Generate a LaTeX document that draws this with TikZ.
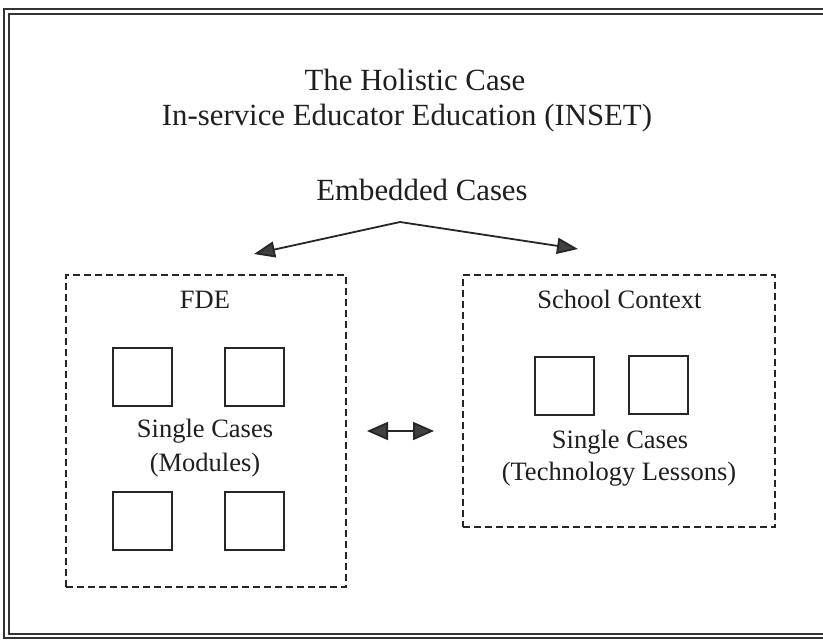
\documentclass[tikz,border=0pt]{standalone}
\usepackage{fontspec}
\setmainfont{Liberation Serif}
\usetikzlibrary{arrows.meta}
\begin{document}
\begin{tikzpicture}[x=1pt,y=-1pt,
  big/.style={font=\fontsize{30.8}{36}\selectfont, text=black!88, inner sep=0pt, anchor=base},
  small/.style={font=\fontsize{26.5}{32}\selectfont, text=black!88, inner sep=0pt, anchor=base},
  casebox/.style={draw=black!85, line width=2pt, minimum width=59pt, minimum height=58pt, inner sep=0pt},
  groupbox/.style={draw=black!85, line width=2pt, dash pattern=on 7pt off 4pt, inner sep=0pt},
  link/.style={line width=1.8pt, draw=black!85, -{Triangle[length=21pt,width=16pt,fill=black!75]}},
  twolink/.style={line width=1.8pt, draw=black!85, {Triangle[length=21pt,width=18pt,fill=black!75]}-{Triangle[length=21pt,width=18pt,fill=black!75]}}
]
\useasboundingbox (0,0) rectangle (823,641);
\fill[white] (0,0) rectangle (823,641);
\begin{scope}
\clip (0,0) rectangle (823,641);
% outer double frame
\draw[line width=2.6pt, black!80] (4,9) rectangle (860,638);
\draw[line width=1.2pt, black!80] (9,14) rectangle (860,634);
\end{scope}
% titles
\node[big] (t1) at (415,90) {The Holistic Case};
\node[big] (t2) at (407,125) {In-service Educator Education (INSET)};
\node[big] (emb) at (422,200) {Embedded Cases};
% group boxes
\node[groupbox, minimum width=280pt, minimum height=312pt] (fde) at (206,431) {};
\node[groupbox, minimum width=312pt, minimum height=252pt] (school) at (619,401) {};
% labels in left box
\node[small] (fdel) at (205,308) {FDE};
\node[small] (scl) at (205,437) {Single Cases};
\node[small] (mod) at (205,471) {(Modules)};
% left squares
\node[casebox] (s1) at (142,376.5) {};
\node[casebox] (s2) at (254.5,376.5) {};
\node[casebox] (s3) at (142,520.5) {};
\node[casebox] (s4) at (254.5,520.5) {};
% labels in right box
\node[small] (scx) at (619.5,308) {School Context};
\node[small] (scr) at (620,448) {Single Cases};
\node[small] (tech) at (619,480) {(Technology Lessons)};
% right squares
\node[casebox] (r1) at (564.5,386) {};
\node[casebox] (r2) at (658,385) {};
% arrows
\coordinate (apex) at (400,222);
\coordinate (lt) at (254,254);
\coordinate (rt) at (578,249);
\draw[link] (apex) -- (lt);
\draw[link] (apex) -- (rt);
\coordinate (da) at (367,431);
\coordinate (db) at (434,431);
\draw[twolink] (da) -- (db);
\end{tikzpicture}
\end{document}
